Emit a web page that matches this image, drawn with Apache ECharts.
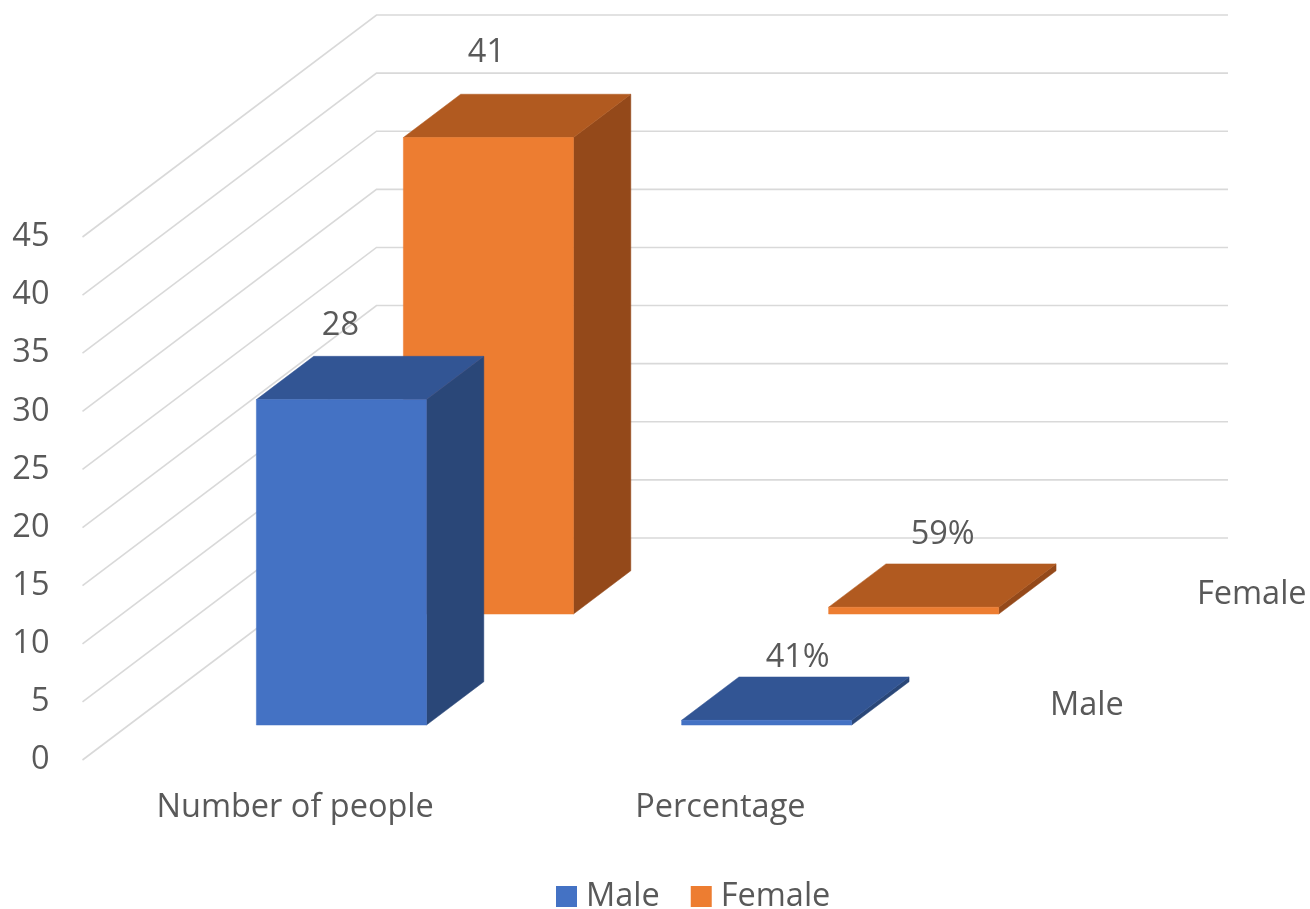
<!DOCTYPE html>
<html>
<head>
<meta charset="utf-8">
<style>html,body{margin:0;padding:0;background:#fff}#c{width:1310px;height:909px}</style>
<script src="https://cdn.jsdelivr.net/npm/echarts@6/dist/echarts.min.js"></script>
</head>
<body>
<div id="c"></div>
<script>
const categories = ['Number of people', 'Percentage'];
const yTicks = [0, 5, 10, 15, 20, 25, 30, 35, 40, 45];
const seriesNames = ['Male', 'Female'];
const maleValues = [28, 0.41];
const femaleValues = [41, 0.59];
const maleLabels = ['28', '41%'];
const femaleLabels = ['41', '59%'];

// style constants
const FONT = '"Open Sans", sans-serif';
const FS = 32.5;
const TEXT = '#595959';
const GRID = '#d9d9d9';
const DEPTH = [294, -222];     // px vector from front plane to back wall
const ROW = { Male: 0.255, Female: 0.755 };
const ROW_DEPTH = 0.195, BAR_W = 0.4;
const LABEL_OFF = { Male: [[-1, -74], [31, -63]], Female: [[-2, -85], [29, -72]] };
const COLORS = {
  Male:   { front: '#4472C4', top: '#325594', side: '#2A4778' },
  Female: { front: '#ED7D31', top: '#B15A20', side: '#94491A' }
};

const chart = echarts.init(document.getElementById('c'), null, { renderer: 'canvas' });

function shift(p, d) { return [p[0] + DEPTH[0] * d, p[1] + DEPTH[1] * d]; }
function poly(points, fill) {
  return { type: 'polygon', shape: { points }, style: { fill, stroke: fill, lineWidth: 0.5 } };
}

function wallItem(params, api) {
  const cs = params.coordSys;
  const y = api.coord([0, api.value(0)])[1];
  const a = [cs.x, y], b = shift(a, 1), c = [cs.x + cs.width + DEPTH[0] + 1, b[1]];
  const st = { stroke: GRID, lineWidth: 1.6, fill: 'none' };
  return { type: 'polyline', shape: { points: [a, b, c] }, style: st, silent: true };
}

function depthLabelItem(params, api) {
  const cs = params.coordSys;
  const name = seriesNames[params.dataIndex];
  const p = shift([cs.x + cs.width, cs.y + cs.height], ROW[name]);
  return { type: 'text', x: p[0] + 42, y: p[1] + 2, silent: true,
    style: { text: name, fill: TEXT, font: FS + 'px ' + FONT, align: 'left', verticalAlign: 'middle' } };
}

function barItem(name, labels) {
  return function (params, api) {
    const i = api.value(0), v = api.value(1);
    const w = api.size([1, 0])[0] * BAR_W;
    const d0 = ROW[name] - ROW_DEPTH / 2, d1 = ROW[name] + ROW_DEPTH / 2;
    const base = api.coord([i, 0]), top = api.coord([i, v]);
    const bl = shift([base[0] - w / 2, base[1]], d0), br = shift([base[0] + w / 2, base[1]], d0);
    const tl = shift([top[0] - w / 2, top[1]], d0), tr = shift([top[0] + w / 2, top[1]], d0);
    const bbr = shift([base[0] + w / 2, base[1]], d1);
    const btl = shift([top[0] - w / 2, top[1]], d1), btr = shift([top[0] + w / 2, top[1]], d1);
    const c = COLORS[name], off = LABEL_OFF[name][params.dataIndex];
    return { type: 'group', children: [
      poly([br, bbr, btr, tr], c.side),
      poly([tl, tr, btr, btl], c.top),
      poly([bl, br, tr, tl], c.front),
      { type: 'text', x: (tl[0] + tr[0]) / 2 + off[0], y: tl[1] + off[1],
        style: { text: labels[params.dataIndex], fill: TEXT, font: FS + 'px ' + FONT,
                 align: 'center', verticalAlign: 'middle' } }
    ] };
  };
}

function barSeries(name, values, labels) {
  return { name, type: 'custom', coordinateSystem: 'cartesian2d', clip: false,
    itemStyle: { color: COLORS[name].front },
    encode: { x: 0, y: 1 },
    data: values.map((v, i) => [i, v]),
    renderItem: barItem(name, labels) };
}

chart.setOption({
  animation: false,
  backgroundColor: '#fff',
  grid: { left: 82.5, top: 237, width: 850.5, height: 523, containLabel: false },
  legend: {
    data: seriesNames, left: 551, top: 875, icon: 'rect',
    itemWidth: 21, itemHeight: 21, itemGap: 31,
    textStyle: { color: TEXT, fontFamily: FONT, fontSize: FS, padding: [0, 0, 0, 4] }
  },
  xAxis: {
    type: 'category', data: categories, boundaryGap: true,
    axisLine: { show: false }, axisTick: { show: false }, splitLine: { show: false },
    axisLabel: { color: TEXT, fontFamily: FONT, fontSize: FS, margin: 31 }
  },
  yAxis: {
    type: 'value', min: 0, max: 45, interval: 5,
    axisLine: { show: false }, axisTick: { show: false }, splitLine: { show: false },
    axisLabel: { color: TEXT, fontFamily: FONT, fontSize: FS, margin: 33 }
  },
  series: [
    { name: 'wall', type: 'custom', clip: false, silent: true, z: 1,
      data: yTicks.map(t => [t]), encode: { y: 0 }, renderItem: wallItem },
    { name: 'depth', type: 'custom', clip: false, silent: true, z: 1,
      data: seriesNames.map((n, i) => [i]), renderItem: depthLabelItem },
    barSeries('Female', femaleValues, femaleLabels),
    barSeries('Male', maleValues, maleLabels)
  ]
});
</script>
</body>
</html>
